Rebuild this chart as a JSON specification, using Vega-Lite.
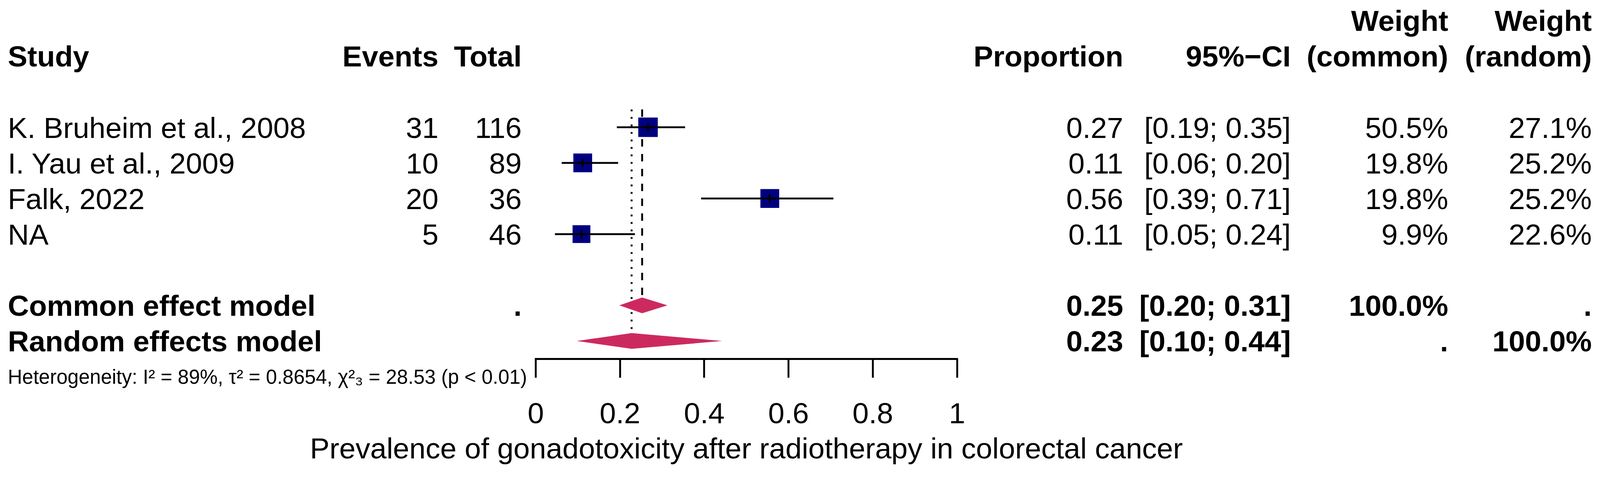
{
  "$schema": "https://vega.github.io/schema/vega-lite/v6.json",
  "width": 4096,
  "height": 918,
  "padding": {"left": 0, "top": 0, "right": 0, "bottom": 295},
  "autosize": {"type": "none"},
  "background": "white",
  "config": {
    "view": {"stroke": null},
    "font": "Liberation Sans",
    "text": {"fontSize": 75, "baseline": "alphabetic", "dy": 27, "color": "black"}
  },
  "datasets": {
    "studies": [
      {"study": "K. Bruheim et al., 2008", "events": "31", "total": "116", "est": 0.267, "lo": 0.193, "hi": 0.355, "w_random": 27.1, "row": 4, "prop": "0.27", "ci": "[0.19; 0.35]", "wc": "50.5%", "wr": "27.1%"},
      {"study": "I. Yau et al., 2009", "events": "10", "total": "89", "est": 0.112, "lo": 0.062, "hi": 0.196, "w_random": 25.2, "row": 5, "prop": "0.11", "ci": "[0.06; 0.20]", "wc": "19.8%", "wr": "25.2%"},
      {"study": "Falk, 2022", "events": "20", "total": "36", "est": 0.556, "lo": 0.393, "hi": 0.707, "w_random": 25.2, "row": 6, "prop": "0.56", "ci": "[0.39; 0.71]", "wc": "19.8%", "wr": "25.2%"},
      {"study": "NA", "events": "5", "total": "46", "est": 0.109, "lo": 0.046, "hi": 0.236, "w_random": 22.6, "row": 7, "prop": "0.11", "ci": "[0.05; 0.24]", "wc": "9.9%", "wr": "22.6%"}
    ],
    "labels": [
      {"row": 1, "study": "", "events": "", "total": "", "prop": "", "ci": "", "wc": "Weight", "wr": "Weight"},
      {"row": 2, "study": "Study", "events": "Events", "total": "Total", "prop": "Proportion", "ci": "95%−CI", "wc": "(common)", "wr": "(random)"},
      {"row": 9, "study": "Common effect model", "events": "", "total": ".", "prop": "0.25", "ci": "[0.20; 0.31]", "wc": "100.0%", "wr": "."},
      {"row": 10, "study": "Random effects model", "events": "", "total": "", "prop": "0.23", "ci": "[0.10; 0.44]", "wc": ".", "wr": "100.0%"}
    ],
    "pooled": [
      {"model": "Common", "est": 0.253, "lo": 0.199, "hi": 0.313, "row": 9},
      {"model": "Random", "est": 0.228, "lo": 0.098, "hi": 0.443, "row": 10}
    ],
    "diamond": [
      {"model": "Common", "x": 0.199, "top": 9, "bottom": 9},
      {"model": "Common", "x": 0.253, "top": 8.779, "bottom": 9.221},
      {"model": "Common", "x": 0.313, "top": 9, "bottom": 9},
      {"model": "Random", "x": 0.098, "top": 10, "bottom": 10},
      {"model": "Random", "x": 0.228, "top": 9.779, "bottom": 10.221},
      {"model": "Random", "x": 0.443, "top": 10, "bottom": 10}
    ],
    "notes": [
      {"row": 11, "text": "Heterogeneity: I² = 89%, τ² = 0.8654, χ²₃ = 28.53 (p < 0.01)"}
    ]
  },
  "encoding": {
    "y": {"field": "row", "type": "quantitative", "scale": {"domain": [0.4263, 10.5], "reverse": true, "nice": false, "zero": false}, "axis": null}
  },
  "layer": [
    {
      "data": {"name": "pooled"},
      "transform": [{"filter": "datum.model === 'Random'"}],
      "mark": {"type": "rule", "strokeDash": [4.8, 14.4], "strokeWidth": 4.8, "color": "black"},
      "encoding": {"x": {"field": "est", "type": "quantitative"}, "y": {"datum": 3.5}, "y2": {"datum": 9.76}}
    },
    {
      "data": {"name": "pooled"},
      "transform": [{"filter": "datum.model === 'Common'"}],
      "mark": {"type": "rule", "strokeDash": [19, 19], "strokeWidth": 4.8, "color": "black"},
      "encoding": {"x": {"field": "est", "type": "quantitative"}, "y": {"datum": 3.5}, "y2": {"datum": 8.78}}
    },
    {
      "data": {"name": "studies"},
      "mark": {"type": "square", "color": "#000080", "opacity": 1},
      "encoding": {
        "x": {
          "field": "est", "type": "quantitative",
          "scale": {"domain": [0, 1], "range": [1371, 2449.5], "nice": false, "zero": false},
          "axis": {
            "values": [0, 0.2, 0.4, 0.6, 0.8, 1], "format": "~g", "grid": false,
            "title": "Prevalence of gonadotoxicity after radiotherapy in colorectal cancer",
            "domainColor": "black", "domainWidth": 4.8, "domainCap": "square",
            "tickColor": "black", "tickWidth": 4.8, "tickSize": 48,
            "labelFont": "Liberation Sans", "labelFontSize": 75, "labelColor": "black", "labelPadding": 57,
            "labelFlush": false, "labelOverlap": false,
            "titleFont": "Liberation Sans", "titleFontSize": 75, "titleFontWeight": "normal", "titleColor": "black", "titlePadding": 16
          }
        },
        "size": {"field": "w_random", "type": "quantitative", "scale": {"domain": [0, 30], "range": [0, 2756]}, "legend": null}
      }
    },
    {
      "data": {"name": "studies"},
      "mark": {"type": "rule", "strokeWidth": 4.8, "color": "black"},
      "encoding": {"x": {"field": "lo", "type": "quantitative"}, "x2": {"field": "hi"}}
    },
    {
      "data": {"name": "studies"},
      "mark": {"type": "tick", "orient": "vertical", "size": 22, "thickness": 4.8, "color": "black", "opacity": 1},
      "encoding": {"x": {"field": "est", "type": "quantitative"}}
    },
    {
      "data": {"name": "diamond"},
      "mark": {"type": "area", "orient": "vertical", "color": "#CC2A5E", "opacity": 1},
      "encoding": {
        "x": {"field": "x", "type": "quantitative"},
        "y": {"field": "top", "type": "quantitative"},
        "y2": {"field": "bottom"},
        "detail": {"field": "model", "type": "nominal"}
      }
    },
    {
      "encoding": {"x": {"datum": -1.2527}, "text": {"field": "study", "type": "nominal"}},
      "layer": [
        {"data": {"name": "studies"}, "mark": {"type": "text", "align": "left"}},
        {"data": {"name": "labels"}, "mark": {"type": "text", "align": "left", "fontWeight": "bold"}}
      ]
    },
    {
      "encoding": {"x": {"datum": -0.2304}, "text": {"field": "events", "type": "nominal"}},
      "layer": [
        {"data": {"name": "studies"}, "mark": {"type": "text", "align": "right"}},
        {"data": {"name": "labels"}, "mark": {"type": "text", "align": "right", "fontWeight": "bold"}}
      ]
    },
    {
      "encoding": {"x": {"datum": -0.0329}, "text": {"field": "total", "type": "nominal"}},
      "layer": [
        {"data": {"name": "studies"}, "mark": {"type": "text", "align": "right"}},
        {"data": {"name": "labels"}, "mark": {"type": "text", "align": "right", "fontWeight": "bold"}}
      ]
    },
    {
      "encoding": {"x": {"datum": 1.395}, "text": {"field": "prop", "type": "nominal"}},
      "layer": [
        {"data": {"name": "studies"}, "mark": {"type": "text", "align": "right"}},
        {"data": {"name": "labels"}, "mark": {"type": "text", "align": "right", "fontWeight": "bold"}}
      ]
    },
    {
      "encoding": {"x": {"datum": 1.7927}, "text": {"field": "ci", "type": "nominal"}},
      "layer": [
        {"data": {"name": "studies"}, "mark": {"type": "text", "align": "right"}},
        {"data": {"name": "labels"}, "mark": {"type": "text", "align": "right", "fontWeight": "bold"}}
      ]
    },
    {
      "encoding": {"x": {"datum": 2.1664}, "text": {"field": "wc", "type": "nominal"}},
      "layer": [
        {"data": {"name": "studies"}, "mark": {"type": "text", "align": "right"}},
        {"data": {"name": "labels"}, "mark": {"type": "text", "align": "right", "fontWeight": "bold"}}
      ]
    },
    {
      "encoding": {"x": {"datum": 2.5071}, "text": {"field": "wr", "type": "nominal"}},
      "layer": [
        {"data": {"name": "studies"}, "mark": {"type": "text", "align": "right"}},
        {"data": {"name": "labels"}, "mark": {"type": "text", "align": "right", "fontWeight": "bold"}}
      ]
    },
    {
      "data": {"name": "notes"},
      "mark": {"type": "text", "align": "left", "fontSize": 51, "dy": 18},
      "encoding": {"x": {"datum": -1.2527}, "text": {"field": "text", "type": "nominal"}}
    }
  ]
}
